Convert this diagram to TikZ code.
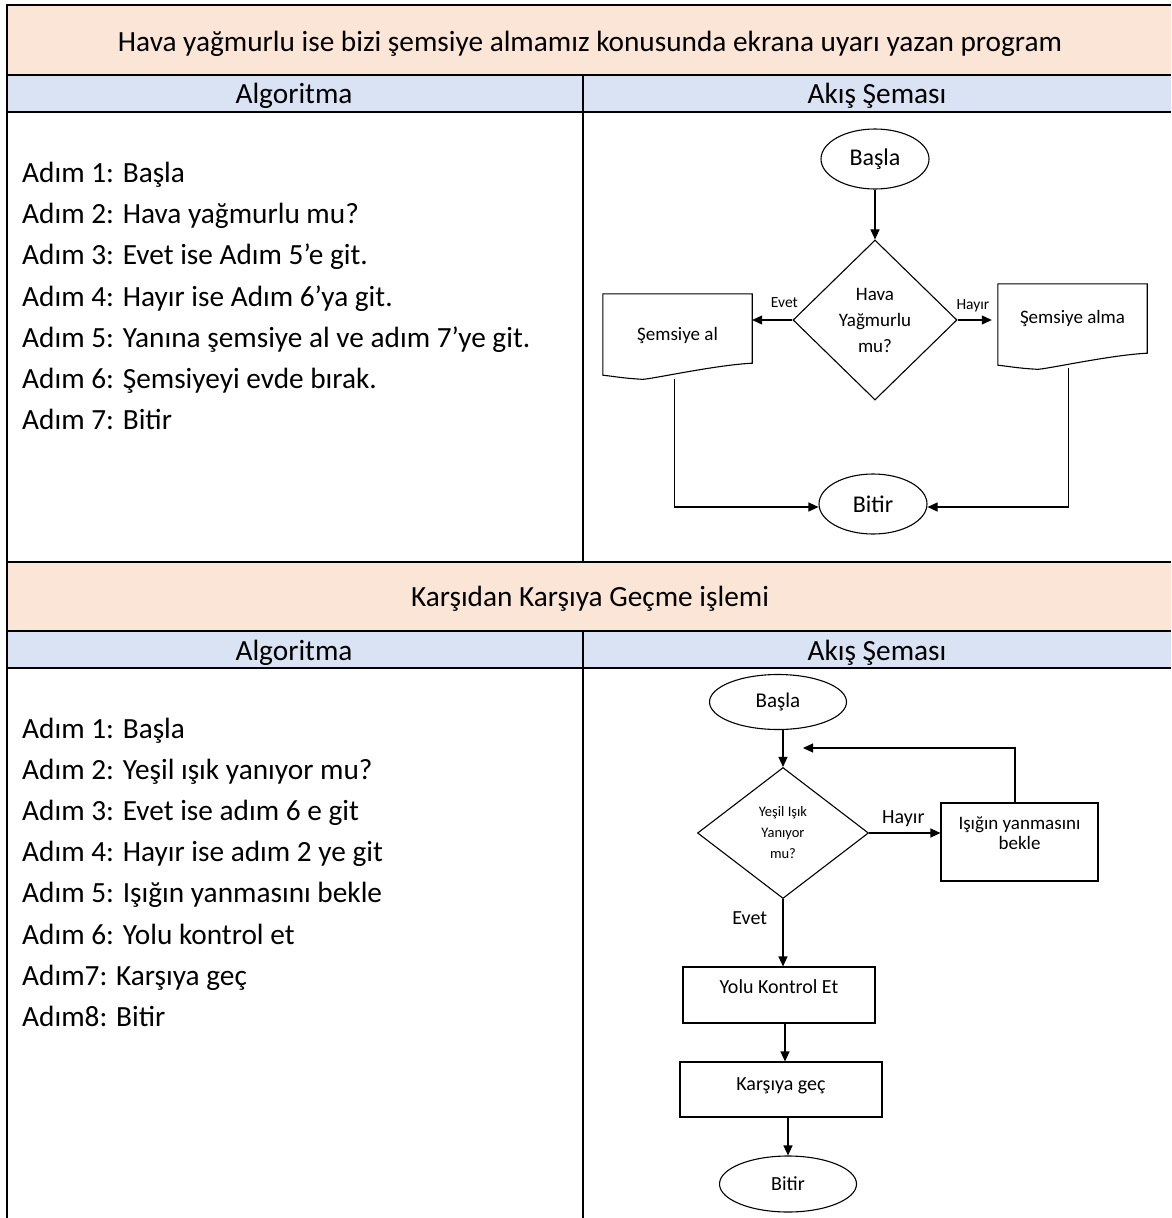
\documentclass[tikz,border=0pt]{standalone}
\usepackage{fontspec}
\setmainfont{Carlito}
\usetikzlibrary{shapes.geometric,arrows.meta}

\definecolor{titlepeach}{HTML}{FBE5D6}
\definecolor{headblue}{HTML}{DAE3F3}

\newcommand*{\tabletext}{\fontsize{29.3}{41}\selectfont}
\newcommand*{\chartA}{\fontsize{19}{26}\selectfont}
\newcommand*{\chartB}{\fontsize{20}{26}\selectfont}
\newcommand*{\smallq}{\fontsize{14.5}{21}\selectfont}
\newcommand*{\tinylabel}{\fontsize{15.5}{18}\selectfont}

\begin{document}
\begin{tikzpicture}
[
	x=1pt, y=-1pt,
	gridline/.style={line width=2pt},
	terminal/.style={ellipse,draw,line width=1.1pt,inner sep=0pt},
	decision/.style={diamond,draw,line width=1.1pt,inner sep=0pt,align=center},
	process/.style={rectangle,draw,line width=1.1pt,inner sep=0pt,align=center},
	docbox/.style={rectangle,inner sep=0pt,minimum width=149pt,minimum height=69pt,font=\chartA},
	flow/.style={line width=1.1pt,-{Triangle[length=10pt,width=9pt]}},
	link/.style={line width=1.1pt},
	steptext/.style={anchor=base west,font=\tabletext,inner sep=0pt}
]
	\useasboundingbox (0,0) rectangle (1171,1218);

	% table
	\fill[titlepeach] (7,5) rectangle (1171,75);
	\fill[headblue] (7,75) rectangle (1171,112);
	\fill[titlepeach] (7,562) rectangle (1171,631);
	\fill[headblue] (7,631) rectangle (1171,668);
	\draw[gridline] (7,1218) -- (7,5) -- (1171,5);
	\foreach \y in {75,112,562,631,668}
		\draw[gridline] (7,\y) -- (1171,\y);
	\draw[gridline] (583,75) -- (583,562);
	\draw[gridline] (583,631) -- (583,1218);

	% headings
	\node[anchor=base,font=\tabletext] (title1) at (590,51) {Hava yağmurlu ise bizi şemsiye almamız konusunda ekrana uyarı yazan program};
	\node[anchor=base,font=\tabletext] (algo1) at (294,103) {Algoritma};
	\node[anchor=base,font=\tabletext] (chart1) at (877,103) {Akış Şeması};
	\node[anchor=base,font=\tabletext] (title2) at (590,606) {Karşıdan Karşıya Geçme işlemi};
	\node[anchor=base,font=\tabletext] (algo2) at (294,660) {Algoritma};
	\node[anchor=base,font=\tabletext] (chart2) at (877,660) {Akış Şeması};

	% steps
	\foreach \txt [count=\i] in {Adım 1: Başla,Adım 2: Hava yağmurlu mu?,Adım 3: Evet ise Adım 5’e git.,Adım 4: Hayır ise Adım 6’ya git.,Adım 5: Yanına şemsiye al ve adım 7’ye git.,Adım 6: Şemsiyeyi evde bırak.,Adım 7: Bitir}
		\node[steptext] (stepA\i) at (22,182.5+41.2*\i-41.2) {\txt};
	\foreach \txt [count=\i] in {Adım 1: Başla,Adım 2: Yeşil ışık yanıyor mu?,Adım 3: Evet ise adım 6 e git,Adım 4: Hayır ise adım 2 ye git,Adım 5: Işığın yanmasını bekle,Adım 6: Yolu kontrol et,Adım7: Karşıya geç,Adım8: Bitir}
		\node[steptext] (stepB\i) at (22,738.5+41.1*\i-41.1) {\txt};

	% umbrella chart
	\node[terminal,minimum width=108pt,minimum height=60pt,font=\fontsize{24}{28}\selectfont] (start1) at (875,159) {Başla};
	\node[decision,minimum width=164pt,minimum height=160pt,font=\chartA] (rain) at (875,320) {Hava\\Yağmurlu\\mu?};
	\node[docbox,text height=46pt,text depth=23pt] (take) at (677.5,328.5) {Şemsiye al};
	\node[docbox] (leave) at (1072.5,318.5) {Şemsiye alma};
	\foreach \d in {take,leave}
		\draw[link] (\d.north west) -- (\d.north east) -- (\d.south east)
			.. controls ([xshift=-40pt,yshift=-2pt]\d.south east) and ([xshift=40pt,yshift=-18pt]\d.south west) .. ([xshift=38pt,yshift=-16pt]\d.south west)
			.. controls ([xshift=20pt,yshift=-15pt]\d.south west) and ([xshift=10pt,yshift=-13pt]\d.south west) .. ([yshift=-12pt]\d.south west)
			-- cycle;
	\node[terminal,minimum width=108pt,minimum height=60pt,font=\fontsize{24}{28}\selectfont] (end1) at (873,504) {Bitir};

	\draw[flow] (start1) -- (rain);
	\draw[flow] (rain.west) -- (take.east |- rain.west) node[pos=0.2,above=9pt,font=\tinylabel] (yes1) {Evet};
	\draw[flow] (rain.east) -- ([xshift=-6pt]leave.west |- rain.east) node[pos=0.45,above=4pt,font=\tinylabel] (no1) {Hayır};
	\draw[flow] ([xshift=-3pt,yshift=-16pt]take.south) |- ([yshift=-3pt]end1.west);
	\draw[flow] ([xshift=-4pt,yshift=-15pt]leave.south) |- ([yshift=-3pt]end1.east);

	% crossing chart
	\node[terminal,minimum width=137pt,minimum height=55pt,font=\fontsize{21}{25}\selectfont] (start2) at (778,702) {Başla};
	\node[decision,minimum width=171pt,minimum height=131pt,font=\smallq] (light) at (783,833) {Yeşil Işık\\Yanıyor\\mu?};
	\node[process,minimum width=157pt,minimum height=78pt,
		label={[font=\fontsize{19}{20}\selectfont,align=center,anchor=north,inner sep=0pt,yshift=-14pt]north:Işığın yanmasını\\bekle}] (wait) at (1019.5,842) {};
	\node[process,minimum width=192pt,minimum height=56pt,font=\chartB,text height=26pt,text depth=30pt] (check) at (779,995) {Yolu Kontrol Et};
	\node[process,minimum width=202pt,minimum height=55pt,font=\chartB,text height=28pt,text depth=27pt] (cross) at (781,1089.5) {Karşıya geç};
	\node[terminal,minimum width=137pt,minimum height=56pt,font=\chartB] (end2) at (788,1184) {Bitir};
	\coordinate (back) at (803,748);

	\draw[flow] (start2.south -| light.north) -- (light.north);
	\draw[flow] (light.east) -- (wait.west |- light.east) node[pos=0.48,above=2pt,font=\chartB] (no2) {Hayır};
	\draw[flow] (wait.north -| 1015,0) |- (back);
	\draw[flow] (light.south) -- (light.south |- check.north) node[pos=0.28,left=12pt,font=\chartB] (yes2) {Evet};
	\draw[flow] (check.south -| 785,0) -- (cross.north -| 785,0);
	\draw[flow] (cross.south -| end2.north) -- (end2.north);

\end{tikzpicture}
\end{document}
